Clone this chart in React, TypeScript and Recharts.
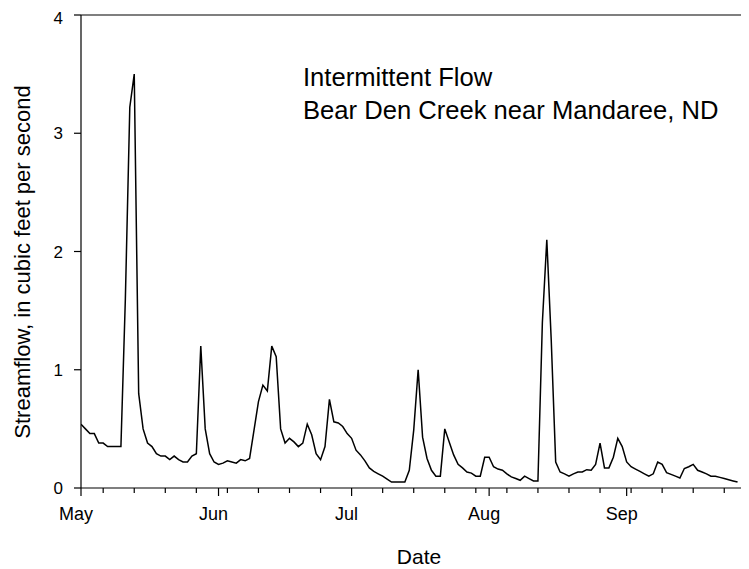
import React from 'react';
import { LineChart, Line, XAxis, YAxis, ReferenceLine } from 'recharts';

// Daily streamflow (cfs), starting May 1
const flow: number[] = [
  0.54, 0.50, 0.46, 0.46, 0.38, 0.38, 0.35, 0.35, 0.35, 0.35,
  1.6, 3.22, 3.5, 0.8, 0.5, 0.38, 0.35, 0.29, 0.27, 0.27,
  0.24, 0.27, 0.24, 0.22, 0.22, 0.27, 0.29, 1.2, 0.5, 0.29,
  0.22, 0.20, 0.21, 0.23, 0.22, 0.21, 0.24, 0.23, 0.25, 0.49,
  0.73, 0.87, 0.82, 1.2, 1.11, 0.50, 0.38, 0.42, 0.39, 0.35,
  0.38, 0.54, 0.45, 0.29, 0.24, 0.35, 0.75, 0.56, 0.55, 0.52,
  0.46, 0.42, 0.32, 0.28, 0.23, 0.17, 0.14, 0.12, 0.10, 0.076,
  0.05, 0.05, 0.05, 0.05, 0.15, 0.49, 1.0, 0.43, 0.25, 0.15,
  0.10, 0.10, 0.50, 0.39, 0.28, 0.20, 0.17, 0.135, 0.126, 0.10,
  0.10, 0.26, 0.26, 0.18, 0.16, 0.15, 0.12, 0.094, 0.08, 0.065,
  0.10, 0.08, 0.06, 0.06, 1.4, 2.1, 1.25, 0.22, 0.135, 0.12,
  0.10, 0.12, 0.135, 0.135, 0.155, 0.15, 0.20, 0.38, 0.17, 0.17,
  0.26, 0.42, 0.35, 0.22, 0.18, 0.16, 0.14, 0.12, 0.10, 0.12,
  0.22, 0.20, 0.13, 0.115, 0.10, 0.085, 0.165, 0.18, 0.20, 0.15,
  0.135, 0.12, 0.10, 0.10, 0.09, 0.08, 0.07, 0.06, 0.05,
];

// Day offsets (from May 1) of month starts and weekly minor ticks
const monthTicks = [0, 31, 61, 92, 123];
const monthLabels = ['May', 'Jun', 'Jul', 'Aug', 'Sep'];
const weekTicks = [5, 12, 19, 26, 33, 40, 47, 54, 61, 68, 75, 82, 89, 96, 103, 110, 117, 124, 131, 138, 145];
const yTicks = [0, 1, 2, 3, 4];
const titleLines = ['Intermittent Flow', 'Bear Den Creek near Mandaree, ND'];
const xTitle = 'Date';
const yTitle = 'Streamflow, in cubic feet per second';

const data = flow.map((v, i) => ({ day: i, flow: v }));
const allTicks = Array.from(new Set([...monthTicks, ...weekTicks])).sort((a, b) => a - b);

const FONT = '"Liberation Sans", Arial, Helvetica, sans-serif';

const XTick = (props: any) => {
  const { x, y, payload } = props;
  const idx = monthTicks.indexOf(payload.value);
  const major = idx >= 0;
  return (
    <g>
      <line x1={x} x2={x} y1={y} y2={y + (major ? 8 : 5)} stroke="#000" strokeWidth={1.2} />
      {major && (
        <text x={x - 5} y={y + 32} textAnchor="middle" fontSize={18} fontFamily={FONT} fill="#000">
          {monthLabels[idx]}
        </text>
      )}
    </g>
  );
};

export default function App() {
  const W = 741;
  const H = 561;
  return (
    <div style={{ position: 'relative', width: W, height: H }}>
      <LineChart width={W} height={H} data={data} margin={{ top: 7, right: 7, left: 0, bottom: 0 }}>
        <XAxis
          type="number"
          dataKey="day"
          domain={[0, 149]}
          ticks={allTicks}
          interval={0}
          tick={<XTick />}
          tickLine={false}
          tickSize={0}
          tickMargin={0}
          height={81}
          axisLine={{ stroke: '#000', strokeWidth: 1.2 }}
          allowDataOverflow
        />
        <YAxis
          type="number"
          domain={[0, 4]}
          ticks={yTicks}
          width={73}
          tickSize={7}
          tickMargin={11}
          tick={{ fontSize: 17, fill: '#000', fontFamily: FONT }}
          tickLine={{ stroke: '#000', strokeWidth: 1.2 }}
          axisLine={{ stroke: '#000', strokeWidth: 1.2 }}
          allowDataOverflow
        />
        <ReferenceLine y={4} stroke="#000" strokeWidth={1.2} />
        <Line
          type="linear"
          dataKey="flow"
          stroke="#000"
          strokeWidth={1.5}
          dot={false}
          isAnimationActive={false}
        />
      </LineChart>
      <svg
        width={W}
        height={H}
        style={{ position: 'absolute', left: 0, top: 0, pointerEvents: 'none' }}
      >
        <text x={295} y={78} fontSize={25.6} fontFamily={FONT} fill="#000">{titleLines[0]}</text>
        <text x={295} y={111} fontSize={25.6} fontFamily={FONT} fill="#000">{titleLines[1]}</text>
        <text
          x={0}
          y={0}
          transform="translate(22,254) rotate(-90)"
          textAnchor="middle"
          fontSize={22}
          fontFamily={FONT}
          fill="#000"
        >
          {yTitle}
        </text>
        <text x={411} y={556} textAnchor="middle" fontSize={21} fontFamily={FONT} fill="#000">
          {xTitle}
        </text>
      </svg>
    </div>
  );
}
